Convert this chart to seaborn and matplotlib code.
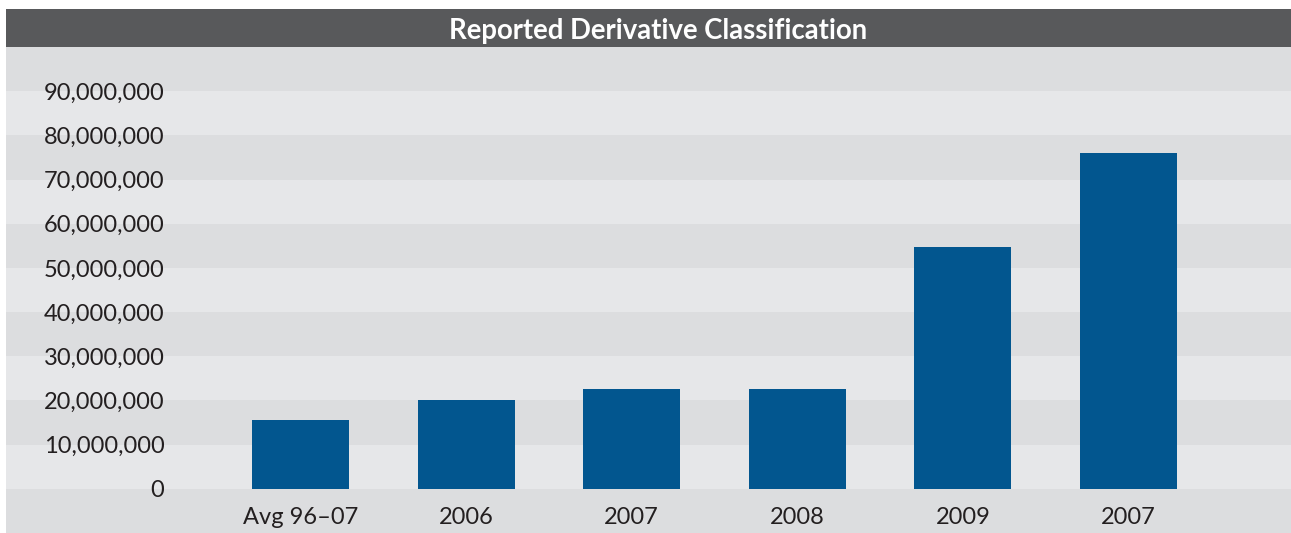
import matplotlib
matplotlib.use("Agg")
import matplotlib.pyplot as plt
from matplotlib.patches import Rectangle
from matplotlib.ticker import StrMethodFormatter
import seaborn as sns

# datos
etiquetas = ["Avg 96\u201307", "2006", "2007", "2008", "2009", "2007"]
valores = [15600000, 20100000, 22700000, 22700000, 54700000, 76000000]
ticks_y = list(range(0, 90000001, 10000000))

sns.set_style("white")
plt.rcParams['font.family'] = ['Lato', 'DejaVu Sans']

W, H = 1291, 533
fig = plt.figure(figsize=(W / 100, H / 100), dpi=100, facecolor="white")

# panel principal
ax = fig.add_axes([6 / W, 0, (W - 6) / W, (H - 47) / H])
ax.set_facecolor("#E6E7E9")

# bandas horizontales alternas
for lo in range(-10, 100, 20):
    ax.axhspan(lo * 1e6, (lo + 10) * 1e6, color="#DCDDDF", lw=0, zorder=0)

sns.barplot(x=list(range(len(valores))), y=valores, color="#02568F",
            saturation=1, width=0.586, linewidth=0, ax=ax, zorder=2)

ax.set_xlim(-1.778, 5.981)
ax.set_ylim(-10000000, 100000000)
ax.set_xticks(range(len(etiquetas)), etiquetas)
ax.set_yticks(ticks_y)
ax.yaxis.set_major_formatter(StrMethodFormatter("{x:,.0f}"))
ax.tick_params(axis="y", length=0, pad=-114, labelsize=17, labelcolor="#231F20")
ax.tick_params(axis="x", length=0, pad=-19, labelsize=17, labelcolor="#231F20")
ax.set_xlabel("")
ax.set_ylabel("")
for s in ax.spines.values():
    s.set_visible(False)

# barra del titulo
fig.add_artist(Rectangle((6 / W, (H - 47) / H), (W - 6) / W, 38 / H,
                         transform=fig.transFigure, color="#58595B", lw=0))
fig.text(658 / W, (H - 31) / H, "Reported Derivative Classification",
         color="white", fontsize=19.8, fontweight="bold", ha="center", va="center")

fig.savefig("out.png", dpi=100, facecolor="white")
